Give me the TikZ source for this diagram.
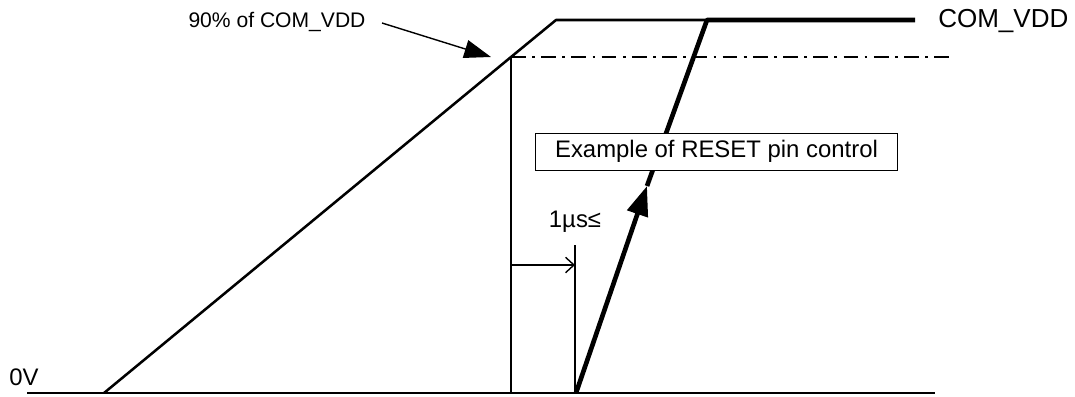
\documentclass[tikz,border=0pt]{standalone}
\usepackage{fontspec}
\setmainfont{Liberation Sans}
\usetikzlibrary{arrows.meta}
\usetikzlibrary{positioning}

\begin{document}
\begin{tikzpicture}[x=0.025cm,y=-0.025cm,>=Triangle,
    txt/.style={inner sep=0pt,font=\fontsize{17}{20}\selectfont},
    small txt/.style={inner sep=0pt,font=\fontsize{15}{18}\selectfont},
    rail/.style={line width=1.9pt},
    ramp/.style={line width=1.8pt,line join=round},
    reset/.style={line width=3.3pt,line join=round},
    guide/.style={line width=1pt},
    dashdot/.style={line width=0.9pt,dash pattern=on 10.5pt off 4.5pt on 2pt off 4.5pt}]
      \useasboundingbox (0,0) rectangle (1075,396);

      % supply ramp
      \coordinate (g0) at (27,393);
      \coordinate (g1) at (935,393);
      \coordinate (r0) at (104,393);
      \coordinate (r1) at (511,57);
      \coordinate (r2) at (556,20);
      \coordinate (r3) at (707,20);

      % reset signal
      \coordinate (s0) at (576,393);
      \coordinate (sm) at (647,186);
      \coordinate (s1) at (707,20);
      \coordinate (s2) at (915,20);

      \coordinate (v0) at (511,393);
      \coordinate (d1) at (955,57);
      \coordinate (w0) at (575,393);
      \coordinate (w1) at (575,245);
      \coordinate (a0) at (511,265);
      \coordinate (a1) at (575,265);
      \coordinate (p0) at (382,23);
      \coordinate (p1) at (491,57);

      \draw[rail] (g0) -- (g1);
      \draw[ramp] (r0) -- (r1) -- (r2) -- (r3);
      \draw[reset, -{Triangle[length=21pt,width=15pt]}] (s0) -- (sm);
      \draw[reset] (sm) -- (s1) -- (s2);

      \draw[dashdot] (r1) -- (d1);
      \draw[guide] (v0) -- (r1);
      \draw[guide] (w0) -- (w1);
      \draw[guide, -{Straight Barb[length=6pt,width=11pt]}] (a0) -- (a1);
      \draw[guide, -{Triangle[length=19pt,width=13pt]}] (p0) -- (p1);

      % labels
      \node[small txt] (pct) at (277,22) {90\% of COM\_VDD};
      \node[txt, font=\fontsize{18.5}{21}\selectfont, anchor=west] (vdd) at (938,21) {COM\_VDD};
      \node[txt] (zero) at (24,377) {0V};
      \node[txt, above=9pt of w1] (dly) {1µs≤};
      \node[txt, draw, fill=white, line width=0.7pt, minimum width=9.025cm, minimum height=0.925cm] (ctl) at (716.5,151.5) {Example of RESET pin control};
    \end{tikzpicture}
\end{document}
